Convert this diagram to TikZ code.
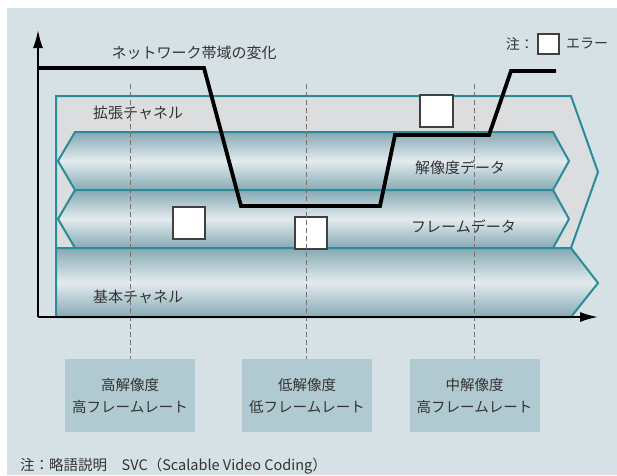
\documentclass[tikz,border=0pt]{standalone}
\usepackage{fontspec}
\setmainfont{Noto Sans CJK JP}
\usetikzlibrary{arrows.meta}
\definecolor{bgc}{HTML}{D6E1E6}
\definecolor{tealc}{HTML}{2A8C98}
\definecolor{greyfill}{HTML}{DCDDDE}
\definecolor{banddark}{HTML}{86A9B4}
\definecolor{bandlight}{HTML}{E3EBEE}
\definecolor{boxfill}{HTML}{B1C9D1}
\definecolor{txt}{HTML}{333333}
\begin{document}
\begin{tikzpicture}[x=1pt,y=-1pt,
  lbl/.style={text=txt,font=\fontsize{15}{17}\selectfont,inner sep=0pt},
  small/.style={text=txt,font=\fontsize{14}{16}\selectfont,inner sep=0pt},
  band/.style={draw=tealc,line width=2pt,line join=miter,top color=banddark,bottom color=banddark,middle color=bandlight},
  errbox/.style={draw=black!75,line width=1.3pt,fill=white,inner sep=0pt},
  guide/.style={draw=black!55,line width=0.7pt,dash pattern=on 5pt off 3pt},
  axis/.style={line width=1.8pt,-{Latex[length=18pt,width=10pt]}},
  bwline/.style={line width=3.8pt,line join=miter},
  rate/.style={fill=boxfill,minimum width=130pt,minimum height=73pt,inner sep=0pt,align=center,text=txt,font=\fontsize{14.5}{22}\selectfont}
]
\useasboundingbox (0,0) rectangle (617,475);
\fill[bgc] (7,8) rectangle (617,475);

% extension channel (grey)
\draw[tealc,line width=2pt,fill=greyfill,line join=miter] (56,96) -- (571,96) -- (598,172) -- (571,248) -- (56,248) -- cycle;
% resolution data
\draw[band] (75,132) -- (553,132) -- (569,161) -- (553,190) -- (75,190) -- (58,161) -- cycle;
% frame data
\draw[band] (75,190) -- (553,190) -- (569,219) -- (553,248) -- (75,248) -- (58,219) -- cycle;
% base channel
\draw[band] (56,248) -- (571,248) -- (598,283) -- (571,317) -- (56,317) -- cycle;

% labels
\node[lbl] (net) at (194,53) {ネットワーク帯域の変化};
\node[lbl,anchor=west] (ext) at (93,113) {拡張チャネル};
\node[lbl,anchor=west] (res) at (415,168) {解像度データ};
\node[lbl,anchor=west] (frm) at (411,227) {フレームデータ};
\node[lbl,anchor=west] (base) at (93,297) {基本チャネル};

% legend
\node[small,anchor=east] (note) at (534,44) {注：};
\node[errbox,minimum width=21pt,minimum height=20pt] (legbox) at (548.5,44) {};
\node[small,anchor=west] (err) at (566,44) {エラー};

% error squares
\node[errbox,minimum width=33pt,minimum height=32pt] (e1) at (436.5,111) {};
\node[errbox,minimum width=32pt,minimum height=32pt] (e2) at (189,223) {};
\node[errbox,minimum width=32pt,minimum height=32pt] (e3) at (311,233) {};

% rate boxes
\node[rate] (r1) at (130,395.5) {高解像度\\高フレームレート};
\node[rate] (r2) at (307,395.5) {低解像度\\低フレームレート};
\node[rate] (r3) at (474.5,395.5) {中解像度\\高フレームレート};

% guides
\coordinate (g1) at (130,84);
\coordinate (g2) at (306,84);
\coordinate (g3) at (474.5,84);
\draw[guide] (g1) -- (g1 |- r1.north);
\draw[guide] (g2) -- (g2 |- r2.north);
\draw[guide] (g3) -- (g3 |- r3.north);

% axes
\coordinate (o) at (38,317);
\coordinate (ytip) at (38,30);
\coordinate (xtip) at (598,317);
\draw[axis] (o) -- (ytip);
\draw[axis] (o) -- (xtip);

% bandwidth line
\coordinate (b0) at (38,68);
\coordinate (b1) at (204,68);
\coordinate (b2) at (241,206);
\coordinate (b3) at (380,206);
\coordinate (b4) at (395,135);
\coordinate (b5) at (489,135);
\coordinate (b6) at (511,71);
\coordinate (b7) at (556,71);
\draw[bwline] (b0) -- (b1) -- (b2) -- (b3) -- (b4) -- (b5) -- (b6) -- (b7);

% footnote
\node[small,font=\fontsize{14.5}{16}\selectfont,anchor=west] (foot) at (20,466) {注：略語説明　SVC（Scalable Video Coding）};
\end{tikzpicture}
\end{document}
